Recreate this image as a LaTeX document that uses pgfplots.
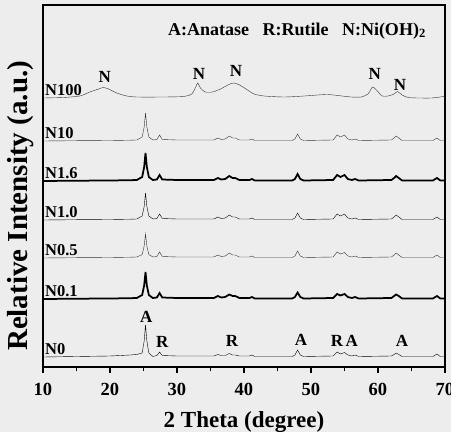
\documentclass[border=0pt]{standalone}
\usepackage{fontspec}
\setmainfont{Liberation Serif}
\usepackage{pgfplots}
\usepackage{pgfplotstable}
\pgfplotsset{compat=1.18}
\usetikzlibrary{backgrounds}

% TiO2-based samples, intensities already offset (one column per sample)
\pgfplotstableread{
x     nten  nonesix none  nhalf  ntenth nzero
10    226   186   147   109    68     10
15    226.3 186.3 147.3 109.3  68.3   10.5
20    226.5 186.5 147.5 109.5  68.5   11
23    226.8 186.8 147.8 109.8  68.8   12
24.0  227   187   148   110    69     12.5
24.8  230   190   151   112.5  72     14
25.1  240   200   160.5 121    81.5   26
25.3  254   214   174   133    95     42
25.5  240   200   160.5 121    81.5   26
25.8  230   190   151   112.5  72     14
26.4  227   187   148   110    69     10.5
27.0  227.5 187.5 148.5 110.5  69.5   11.5
27.4  232   192   153   115    74     15
27.8  227.5 187.5 148.5 110.5  69.5   11.5
30    227   187   148   110    69     11
33    227   187   148   110    69     11
35.5  227   187   148   110    69     11
36.1  229   189   150   112    71     12.5
36.6  227.5 187.5 148.5 110.5  69.5   11.5
37.2  228   188   149   111    70     11.5
37.8  231   191   152   114    72.5   13.5
38.3  229   189   150   112    71     12
38.7  229   189   150   112    71     12
39.3  227   187   148   110    69     11
40.8  227   187   148   110    69     11
41.2  228   188   149   111    70     12
41.6  226.5 186.5 147.5 109.5  68.5   10.5
47.2  226.5 186.5 147.5 109.5  68.5   10.5
47.6  228   188   149   111    70     12
48.0  233   193   154   116    74.5   17
48.4  228   188   149   111    70     12
48.9  226.5 186.5 147.5 109.5  68.5   10.5
53.3  227   187   148   110    69     11
53.9  232   192   153   115    73     15
54.4  230   190   151   113    71.5   13
55.0  232   192   153   114.5  73     14.5
55.5  228   188   149   111    70     12
56.1  227   187   148   110    69     11
56.6  228   188   149   111    70     12
57.1  226.5 186.5 147.5 109.5  68.5   10.5
62.0  227   187   148   110    69     11
62.4  229   189   150   112    71     12.5
62.7  231   191   152   114    72.5   14
63.1  229   189   150   112    71     12.5
63.6  226.5 186.5 147.5 109.5  68.5   10.5
68.2  226.5 186.5 147.5 109.5  68.5   10.5
68.8  229   189   150   112    71     13
69.3  226.5 186.5 147.5 109.5  68.5   10.5
70    226.5 186.5 147.5 109.5  68.5   10.5
}\tio

\begin{document}
\begin{tikzpicture}[show background rectangle,
  background rectangle/.style={fill=black!7, draw=none}, inner frame sep=0pt,
  sname/.style={font=\fontsize{16.5}{16.5}\selectfont\bfseries, inner sep=0pt, anchor=base west},
  pk/.style={font=\fontsize{17}{17}\selectfont\bfseries, inner sep=0pt, anchor=center}]
\begin{axis}[
    name=ax,
    width=402pt, height=362pt, scale only axis,
    xmin=10, xmax=70, ymin=0, ymax=362,
    xtick={10,20,...,70}, minor x tick num=1,
    ytick=\empty,
    xtick pos=bottom, tick align=outside,
    major tick length=6pt, minor tick length=4pt,
    every tick/.style={black, line width=1.3pt},
    axis line style={line width=1.7pt},
    /pgf/number format/assume math mode=true,
    ticklabel style={font=\fontsize{18.5}{18.5}\selectfont\bfseries},
    xticklabel style={yshift=-7pt},
    xlabel={2 Theta (degree)},
    ylabel={Relative Intensity (a.u.)},
    xlabel style={font=\fontsize{23}{23}\selectfont\bfseries,
        at={(axis description cs:0.5,-0.152)}, anchor=center},
    ylabel style={font=\fontsize{29}{29}\selectfont\bfseries,
        at={(axis description cs:-0.055,0.445)}, anchor=center},
    cycle list={{black!80, line width=1.75pt, no markers}},
]
\addplot table[x=x, y=nten] {\tio};
\addplot table[x=x, y=nonesix] {\tio};
\addplot table[x=x, y=none] {\tio};
\addplot table[x=x, y=nhalf] {\tio};
\addplot table[x=x, y=ntenth] {\tio};
\addplot table[x=x, y=nzero] {\tio};

% N100, Ni(OH)2
\addplot+[smooth, tension=0.4] coordinates {
    (10,269) (13,269.5) (15.5,271) (17,275) (18.3,278) (19.0,279.5) (19.8,278)
    (21,274) (22.5,271) (24,270) (28,270) (31,270.5) (32.2,273) (32.8,280)
    (33.1,284) (33.5,279) (34.2,275) (35.3,275) (36.5,278) (37.6,282)
    (38.4,284) (39.2,282.5) (40.3,278) (41.5,273) (43,271) (46,270) (49,271)
    (51,272) (52.5,272.5) (54,271.5) (56,270) (57.5,270) (58.5,273)
    (59.2,280) (59.9,276) (60.6,271) (61.5,271) (62.4,273) (62.9,275.5)
    (63.6,272) (64.5,269.5) (66,269) (68,269) (69.3,270) (70,271)
};

% sample names
\node[sname] at (axis cs:10.3,272) {N100};
\node[sname] at (axis cs:10.3,229) {N10};
\node[sname] at (axis cs:10.3,189) {N1.6};
\node[sname] at (axis cs:10.3,150) {N1.0};
\node[sname] at (axis cs:10.3,112) {N0.5};
\node[sname] at (axis cs:10.3,71) {N0.1};
\node[sname] at (axis cs:10.3,13) {N0};

% phase marks
\node[pk] at (axis cs:19.2,290) {N};
\node[pk] at (axis cs:33.3,293) {N};
\node[pk] at (axis cs:38.8,296) {N};
\node[pk] at (axis cs:59.5,293) {N};
\node[pk] at (axis cs:63.3,282) {N};

\node[pk] at (axis cs:25.4,50) {A};
\node[pk] at (axis cs:27.8,25) {R};
\node[pk] at (axis cs:38.2,26) {R};
\node[pk] at (axis cs:48.5,27) {A};
\node[pk] at (axis cs:53.9,26) {R};
\node[pk] at (axis cs:56.1,26) {A};
\node[pk] at (axis cs:63.6,26) {A};

\node[font=\fontsize{18}{18}\selectfont\bfseries, anchor=center]
    at (axis cs:47.9,336) {A:Anatase\hspace{0.5em} R:Rutile\hspace{0.5em} N:Ni(OH)\textsubscript{2}};
\end{axis}
\pgfresetboundingbox
\path (ax.south west) ++(-43pt,-65pt) rectangle ++(451pt,432pt);
\end{tikzpicture}
\end{document}
